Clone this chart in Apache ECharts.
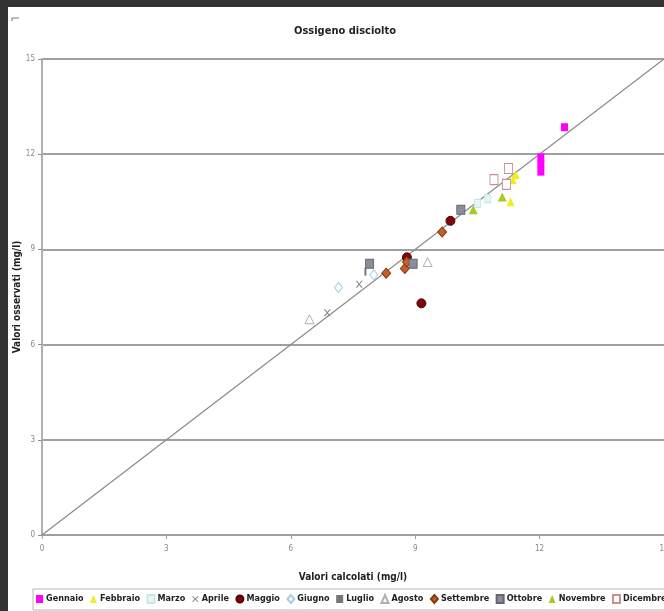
<!DOCTYPE html>
<html>
<head>
<meta charset="utf-8">
<script src="https://cdn.jsdelivr.net/npm/echarts@6/dist/echarts.min.js"></script>
<style>
html,body{margin:0;padding:0;background:#fff;}
#wrap{position:relative;width:664px;height:611px;overflow:hidden;background:#fff;}
#frameTop{position:absolute;left:0;top:0;width:664px;height:7px;background:#333;}
#frameLeft{position:absolute;left:0;top:0;width:8px;height:611px;background:#333;}
#chart{position:absolute;left:0;top:0;width:664px;height:611px;}
</style>
</head>
<body>
<div id="wrap">
<div id="chart"></div>
<div id="frameTop"></div>
<div id="frameLeft"></div>
</div>
<script>
// ---- data ----
const titleText = "Ossigeno disciolto";
const xAxisTitle = "Valori calcolati (mg/l)";
const yAxisTitle = "Valori osservati (mg/l)";
const axisMin = 0, axisMax = 15, axisStep = 3;
const months = ["Gennaio","Febbraio","Marzo","Aprile","Maggio","Giugno","Luglio","Agosto","Settembre","Ottobre","Novembre","Dicembre"];
const gennaio   = [[12.6,12.85],[12.03,11.9],[12.03,11.68],[12.03,11.45]];
const febbraio  = [[11.35,11.2],[11.3,10.5],[11.42,11.35]];
const marzo     = [[10.5,10.45],[10.75,10.6]];
const aprile    = [[7.65,7.9],[6.88,7.0]];
const maggio    = [[9.85,9.9],[8.8,8.75],[9.15,7.3]];
const giugno    = [[7.15,7.8],[8.0,8.2]];
const luglio    = [[7.8,8.3]];
const agosto    = [[9.3,8.6],[6.45,6.8]];
const settembre = [[9.65,9.55],[8.3,8.25],[8.75,8.4],[8.8,8.6]];
const ottobre   = [[10.1,10.25],[7.9,8.55],[8.95,8.55]];
const novembre  = [[11.1,10.65],[10.4,10.25]];
const dicembre  = [[11.25,11.55],[10.9,11.2],[11.2,11.05]];
const identityLine = [[0,0],[15,15]];

const seriesData = [gennaio,febbraio,marzo,aprile,maggio,giugno,luglio,agosto,settembre,ottobre,novembre,dicembre];

const font = "'Liberation Sans Narrow','Arial Narrow','DejaVu Sans Condensed',sans-serif";
const xPath = 'path://M0,0L2,0L5,3L8,0L10,0L6,4L10,8L8,8L5,5L2,8L0,8L4,4Z';
const styles = [
  {symbol:'rect', size:[7,8], color:'#ff00ff', border:'#ff00ff', bw:0},
  {symbol:'triangle', size:[8,9], color:'#eeee22', border:'#dddd00', bw:0},
  {symbol:'rect', size:[6,8], color:'#e6f6f6', border:'#c8e8e8', bw:1},
  {symbol:xPath, size:[7,7], color:'#8a8a8a', border:'#8a8a8a', bw:0},
  {symbol:'circle', size:9, color:'#7a0a0a', border:'#5a0000', bw:1},
  {symbol:'diamond', size:[8,10], color:'#ffffff', border:'#a8cce0', bw:1},
  {symbol:'rect', size:[2,8], color:'#777777', border:'#777777', bw:0},
  {symbol:'triangle', size:[9,9], color:'#ffffff', border:'#b0b0b0', bw:1},
  {symbol:'diamond', size:[9,10], color:'#c0602a', border:'#8a3a10', bw:1},
  {symbol:'rect', size:[8,9], color:'#8c8c9a', border:'#666670', bw:1},
  {symbol:'triangle', size:[9,9], color:'#a6cc22', border:'#88aa00', bw:0},
  {symbol:'rect', size:[8,10], color:'#ffffff', border:'#c89090', bw:1}
];

const series = [{
  name:'1:1', type:'line', data: identityLine, showSymbol:false, symbol:'none',
  lineStyle:{color:'#8a8a8a', width:1.2}, silent:true, z:1, legendHoverLink:false
}];
months.forEach((m,i)=>{
  const s = styles[i];
  series.push({
    name:m, type:'scatter', data: seriesData[i], symbol:s.symbol, symbolSize:s.size,
    itemStyle:{color:s.color, borderColor:s.border, borderWidth:s.bw, opacity:1}, z:3
  });
});

const chart = echarts.init(document.getElementById('chart'), null, {renderer:'canvas'});
chart.setOption({
  animation:false,
  backgroundColor:'#ffffff',
  title:{text:titleText, left:340, top:21, textAlign:'center',
    textStyle:{fontFamily:font, fontSize:11, fontWeight:'bold', color:'#222'}},
  grid:{left:42, right:0, top:59, bottom:76, containLabel:false, outerBoundsMode:'none'},
  xAxis:{type:'value', min:axisMin, max:axisMax, interval:axisStep,
    name:xAxisTitle, nameLocation:'middle', nameGap:37, nameMoveOverlap:false,
    nameTextStyle:{fontFamily:font, fontSize:10, fontWeight:'bold', color:'#222'},
    axisLine:{show:true, lineStyle:{color:'#a0a0a0', width:2}},
    axisTick:{show:true, length:4, lineStyle:{color:'#a0a0a0'}},
    axisLabel:{fontFamily:font, fontSize:8, color:'#888', margin:10, hideOverlap:false},
    splitLine:{show:false}},
  yAxis:{type:'value', min:axisMin, max:axisMax, interval:axisStep,
    name:yAxisTitle, nameLocation:'middle', nameGap:20, nameMoveOverlap:false,
    nameTextStyle:{fontFamily:font, fontSize:10, fontWeight:'bold', color:'#222'},
    axisLine:{show:true, lineStyle:{color:'#b0b0b0', width:2}},
    axisTick:{show:true, length:4, lineStyle:{color:'#909090'}},
    axisLabel:{fontFamily:font, fontSize:8, color:'#888', margin:7},
    splitLine:{show:true, lineStyle:{color:'#a0a0a0', width:2}}},
  legend:{
    data: months, left:33, top:589, width:720, orient:'horizontal',
    itemWidth:7, itemHeight:8, itemGap:6.5, padding:[5,4,6,3],
    borderColor:'#b8b8b8', borderWidth:1,
    textStyle:{fontFamily:font, fontSize:9, fontWeight:'bold', color:'#222', padding:[0,0,0,-2]}
  },
  graphic:[
    {type:'polyline', shape:{points:[[12,21],[12,18],[19,18]]}, style:{stroke:'#777', lineWidth:1, fill:null}}
  ],
  series: series
});
</script>
</body>
</html>
